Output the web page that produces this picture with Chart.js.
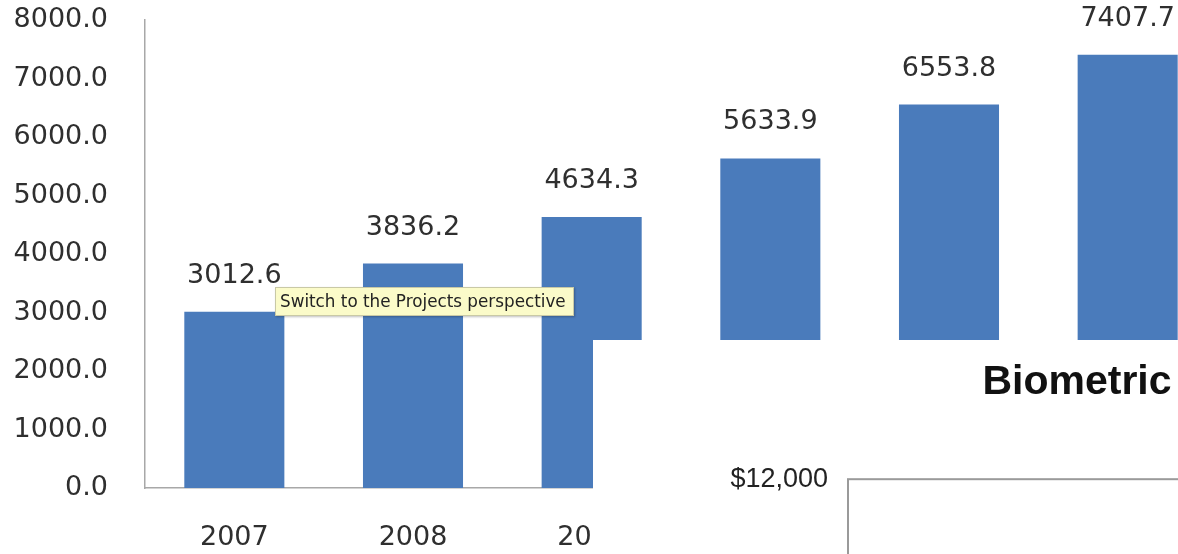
<!DOCTYPE html>
<html>
<head>
<meta charset="utf-8">
<script src="https://cdn.jsdelivr.net/npm/chart.js@4"></script>
<style>
  body { margin: 0; width: 1178px; height: 554px; overflow: hidden; background: #fff; position: relative; }
  #main { position: absolute; left: 0; top: 0; width: 1240px; height: 554px; }
  #inset { position: absolute; left: 593px; top: 340px; width: 585px; height: 214px; overflow: hidden; background: #fff; }
  #insetBox { position: absolute; left: 0; top: 0; width: 968px; height: 800px; }
  #tip {
    position: absolute; left: 275px; top: 287px; width: 299px; height: 29px;
    background: #fbfbc9; border: 1px solid #c9c9a6; box-shadow: 1px 1px 2px rgba(0,0,0,0.25);
    font: 16.8px "DejaVu Sans", sans-serif; color: #222; line-height: 27px; padding-left: 4px;
    white-space: nowrap; box-sizing: border-box; overflow: hidden;
  }
</style>
</head>
<body>
<div id="main"><canvas id="barChart"></canvas></div>
<div id="tip">Switch to the Projects perspective</div>
<div id="inset"><div id="insetBox"><canvas id="bioChart"></canvas></div></div>
<script>
const years = ['2007', '2008', '2009', '2010', '2011', '2012'];
const values = [3012.6, 3836.2, 4634.3, 5633.9, 6553.8, 7407.7];

// second (cut off) chart
const bioTitle = 'Biometric';
const bioLabels = [];
const bioValues = [];
const bioMax = 12000;

const valueLabels = {
    id: 'valueLabels',
    afterDatasetsDraw(chart) {
        const ctx = chart.ctx;
        const meta = chart.getDatasetMeta(0);
        ctx.save();
        ctx.font = '27px "DejaVu Sans"';
        ctx.fillStyle = '#2f2f2f';
        ctx.textAlign = 'center';
        ctx.textBaseline = 'middle';
        meta.data.forEach((bar, i) => {
            ctx.fillText(values[i].toFixed(1), bar.x, bar.y - 36);
        });
        ctx.restore();
    }
};

new Chart(document.getElementById('barChart'), {
    type: 'bar',
    data: {
        labels: years,
        datasets: [{
            data: values,
            backgroundColor: '#4a7bbb',
            barPercentage: 0.56,
            categoryPercentage: 1
        }]
    },
    options: {
        responsive: true,
        maintainAspectRatio: false,
        animation: false,
        layout: { padding: { top: 20, right: 23, bottom: 0, left: 0 } },
        plugins: { legend: { display: false }, tooltip: { enabled: false } },
        scales: {
            x: {
                grid: { display: false, drawTicks: false },
                border: { display: true, color: '#a8a8a8', width: 1.5 },
                ticks: { padding: 34, color: '#2f2f2f', font: { family: 'DejaVu Sans', size: 27 } },
                afterFit(s) { s.height = 66; }
            },
            y: {
                min: 0,
                max: 8000,
                grid: { display: false, drawTicks: false },
                border: { display: true, color: '#a8a8a8', width: 1.5 },
                ticks: {
                    stepSize: 1000,
                    padding: 37,
                    color: '#2f2f2f',
                    font: { family: 'DejaVu Sans', size: 27 },
                    callback: v => v.toFixed(1)
                },
                afterFit(s) {
                    s.width = 145;
                    // tick padding gets added above/below too, drop it
                    s.paddingTop = 16;
                    s.paddingBottom = 16;
                }
            }
        }
    },
    plugins: [valueLabels]
});

const plotBox = {
    id: 'plotBox',
    afterDraw(chart) {
        const a = chart.chartArea;
        const ctx = chart.ctx;
        ctx.save();
        ctx.strokeStyle = '#9a9a9a';
        ctx.lineWidth = 2;
        ctx.strokeRect(a.left, a.top, a.right - a.left, a.bottom - a.top);
        ctx.restore();
    }
};

new Chart(document.getElementById('bioChart'), {
    type: 'bar',
    data: { labels: bioLabels, datasets: [{ data: bioValues }] },
    options: {
        responsive: true,
        maintainAspectRatio: false,
        animation: false,
        layout: { padding: 0 },
        plugins: {
            legend: { display: false },
            tooltip: { enabled: false },
            title: {
                display: true,
                text: bioTitle,
                color: '#111',
                font: { family: 'Liberation Sans', size: 41, weight: 'bold' },
                padding: { top: 18, bottom: 72 }
            }
        },
        scales: {
            x: { display: false },
            y: {
                min: 0,
                max: bioMax,
                grid: { display: false, drawTicks: false },
                border: { display: false },
                ticks: {
                    stepSize: 2000,
                    padding: 20,
                    color: '#222',
                    font: { family: 'Liberation Sans', size: 27 },
                    callback: v => '$' + v.toLocaleString('en-US')
                },
                afterFit(s) {
                    s.width = 255;
                    s.paddingTop = 16;
                }
            }
        }
    },
    plugins: [plotBox]
});
</script>
</body>
</html>
